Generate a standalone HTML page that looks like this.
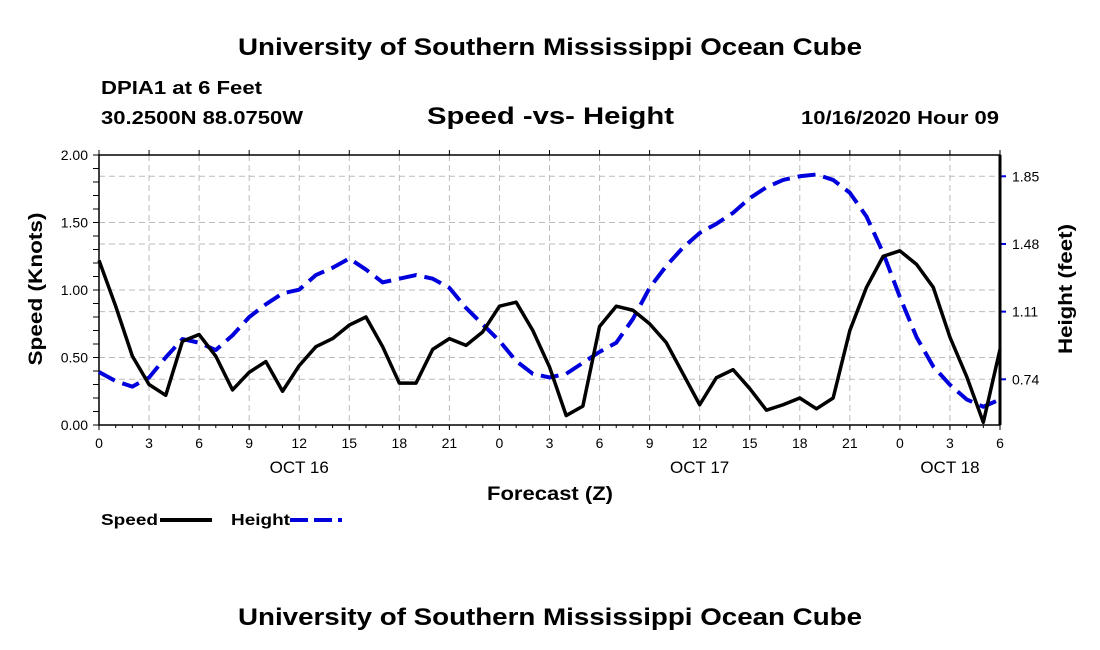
<!DOCTYPE html>
<html><head><meta charset="utf-8"><style>
body{margin:0;background:#fff;}
svg{display:block;font-family:"Liberation Sans",Arial,sans-serif;}
</style></head><body>
<svg id="chart" width="1100" height="650" viewBox="0 0 1100 650">
<text x="238" y="55" font-size="24" font-weight="bold" textLength="624" lengthAdjust="spacingAndGlyphs">University of Southern Mississippi Ocean Cube</text>
<text x="101" y="94" font-size="18" font-weight="bold" textLength="161" lengthAdjust="spacingAndGlyphs">DPIA1 at 6 Feet</text>
<text x="101" y="124" font-size="18" font-weight="bold" textLength="202" lengthAdjust="spacingAndGlyphs">30.2500N 88.0750W</text>
<text x="427" y="124" font-size="24" font-weight="bold" textLength="247" lengthAdjust="spacingAndGlyphs">Speed -vs- Height</text>
<text x="801" y="124" font-size="18" font-weight="bold" textLength="198" lengthAdjust="spacingAndGlyphs">10/16/2020 Hour 09</text>
<g id="grid"></g>
<g id="axes"></g>
<g id="series"></g>
<text x="42" y="289" transform="rotate(-90 42 289)" text-anchor="middle" font-size="19" font-weight="bold" textLength="153" lengthAdjust="spacingAndGlyphs">Speed (Knots)</text>
<text x="1072" y="289" transform="rotate(-90 1072 289)" text-anchor="middle" font-size="19" font-weight="bold" textLength="130" lengthAdjust="spacingAndGlyphs">Height (feet)</text>
<text x="487" y="500" font-size="19" font-weight="bold" textLength="126" lengthAdjust="spacingAndGlyphs">Forecast (Z)</text>
<g>
<text x="101" y="525" font-size="16" font-weight="bold" textLength="57" lengthAdjust="spacingAndGlyphs">Speed</text>
<line x1="160" y1="520" x2="212" y2="520" stroke="#000" stroke-width="4"/>
<text x="231" y="525" font-size="16" font-weight="bold" textLength="59" lengthAdjust="spacingAndGlyphs">Height</text>
<line x1="290" y1="520" x2="342" y2="520" stroke="#0000dd" stroke-width="4" stroke-dasharray="18 6"/>
</g>
<text x="238" y="625" font-size="24" font-weight="bold" textLength="624" lengthAdjust="spacingAndGlyphs">University of Southern Mississippi Ocean Cube</text>
</svg>
<script>
const hours=[];for(let i=0;i<=54;i++)hours.push(i);
const speed=[1.22,0.88,0.51,0.30,0.22,0.62,0.67,0.51,0.26,0.39,0.47,0.25,0.44,0.58,0.64,0.74,0.80,0.58,0.31,0.31,0.56,0.64,0.59,0.69,0.88,0.91,0.70,0.43,0.07,0.14,0.73,0.88,0.85,0.75,0.61,0.38,0.15,0.35,0.41,0.27,0.11,0.15,0.20,0.12,0.20,0.70,1.02,1.25,1.29,1.19,1.02,0.65,0.36,0.02,0.56];
const height=[0.78,0.73,0.70,0.75,0.86,0.96,0.94,0.90,0.98,1.08,1.15,1.21,1.23,1.31,1.35,1.40,1.34,1.27,1.29,1.31,1.29,1.24,1.13,1.04,0.95,0.84,0.77,0.75,0.77,0.83,0.89,0.94,1.07,1.24,1.36,1.46,1.54,1.59,1.65,1.73,1.79,1.83,1.85,1.86,1.83,1.76,1.63,1.43,1.19,0.97,0.81,0.71,0.63,0.59,0.63];
const leftTicks=[0,0.5,1.0,1.5,2.0];
const rightTicks=[0.74,1.11,1.48,1.85];
const xTickLabels=["0","3","6","9","12","15","18","21","0","3","6","9","12","15","18","21","0","3","6"];
const dayLabels=["OCT 16","OCT 17","OCT 18"];
const dayHours=[12,36,51];

const X0=99,X1=1000,Y0=425,Y1=155;
const x=h=>X0+(h/54)*(X1-X0);
const yL=v=>Y0-(v/2)*(Y0-Y1);
const yR=v=>379.3-(v-0.74)*182.9;
const NS="http://www.w3.org/2000/svg";
function mk(tag,attrs,parent,txt){const e=document.createElementNS(NS,tag);for(const k in attrs)e.setAttribute(k,attrs[k]);if(txt!==undefined)e.textContent=txt;parent.appendChild(e);return e;}
const grid=document.getElementById('grid'),axes=document.getElementById('axes'),series=document.getElementById('series');
const gs={stroke:"#bbb","stroke-width":1,"stroke-dasharray":"6 4"};
xTickLabels.forEach((t,i)=>{const xx=x(i*3);if(i>0&&i<xTickLabels.length-1){const l=mk('line',Object.assign({x1:xx,x2:xx,y1:Y1,y2:Y0},gs),grid);

}
const tx=mk('text',{x:xx,y:448,"text-anchor":"middle","font-size":14},axes,t);


mk('line',{x1:xx,x2:xx,y1:Y0,y2:Y0+5,stroke:"#000"},axes);mk('line',{x1:xx,x2:xx,y1:Y1,y2:Y1-5,stroke:"#000"},axes);});
for(let h=0;h<=54;h++){mk('line',{x1:x(h),x2:x(h),y1:Y0,y2:Y0+3,stroke:"#000"},axes);}
leftTicks.forEach(v=>{const yy=yL(v);if(v>0&&v<2){const l=mk('line',Object.assign({x1:X0,x2:X1,y1:yy,y2:yy},gs),grid);

}
const tx=mk('text',{x:88,y:yy+5,"text-anchor":"end","font-size":14},axes,v.toFixed(2));

});
for(let v=0;v<=2.001;v+=0.1){const yy=yL(v);mk('line',{x1:X0-6,x2:X0,y1:yy,y2:yy,stroke:"#000"},axes);}
rightTicks.forEach(v=>{const yy=yR(v);const l=mk('line',Object.assign({x1:X0,x2:X1,y1:yy,y2:yy},gs),grid);


mk('line',{x1:X1,x2:X1+6,y1:yy,y2:yy,stroke:"#0000dd","stroke-width":2},axes);
const tx=mk('text',{x:1012,y:yy+5,"font-size":14},axes,v.toFixed(2));

});
dayLabels.forEach((d,i)=>{const tx=mk('text',{x:x(dayHours[i]),y:473,"text-anchor":"middle","font-size":17},axes,d);

});
mk('rect',{x:X0,y:Y1,width:X1-X0,height:Y0-Y1,fill:"none",stroke:"#000","stroke-width":1.5},axes);
mk('line',{x1:X1,x2:X1,y1:Y1,y2:Y0,stroke:"#000","stroke-width":3},axes);
const hp=mk('polyline',{points:hours.map((h,i)=>x(h)+","+yR(height[i])).join(" "),fill:"none",stroke:"#0000dd","stroke-width":4,"stroke-dasharray":"18 8","stroke-linejoin":"round"},series);


const sp=mk('polyline',{points:hours.map((h,i)=>x(h)+","+yL(speed[i])).join(" "),fill:"none",stroke:"#000","stroke-width":3.5,"stroke-linejoin":"round"},series);


</script>
</body></html>
